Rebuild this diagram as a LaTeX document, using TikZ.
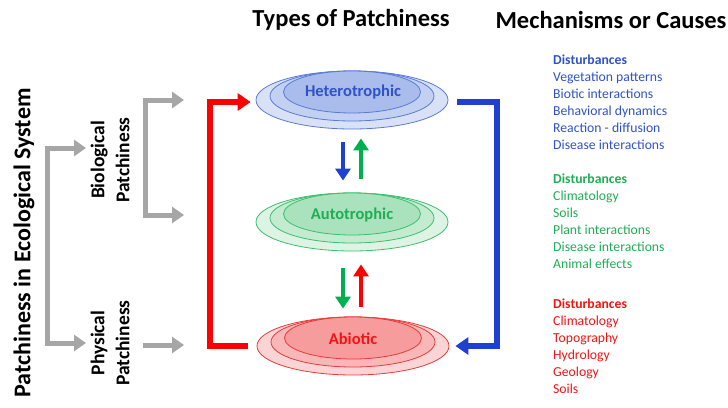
\documentclass[tikz,border=0pt]{standalone}
\usepackage{fontspec}
\setmainfont{Carlito}
\usetikzlibrary{shapes.geometric,arrows.meta,calc}
\definecolor{bline}{HTML}{1F40D0}
\definecolor{gline}{HTML}{00B050}
\definecolor{rline}{HTML}{FF0000}
\definecolor{grayc}{HTML}{A6A6A6}
\definecolor{btext}{HTML}{2F52C8}
\definecolor{gtext}{HTML}{1FAE55}
\definecolor{rtext}{HTML}{F01515}
\definecolor{bo}{HTML}{D8E1F6}\definecolor{bm}{HTML}{C2D0F1}\definecolor{bi}{HTML}{A9BCEB}\definecolor{bs}{HTML}{5A7AD8}
\definecolor{go}{HTML}{DDF3E4}\definecolor{gm}{HTML}{C3EBD0}\definecolor{gi}{HTML}{A9E2BD}\definecolor{gs}{HTML}{3DBE6E}
\definecolor{ro}{HTML}{FBD5D5}\definecolor{rm}{HTML}{F9B7B7}\definecolor{ri}{HTML}{F79C9C}\definecolor{rs}{HTML}{E83A3A}
\tikzset{
  gtip/.tip={Triangle[length=12pt,width=16pt]},
  ell/.style={ellipse, draw, line width=0.8pt, inner sep=0pt},
  outerE/.style={ell, minimum width=192, minimum height=58},
  midE/.style={ell, minimum width=164, minimum height=50},
  innerE/.style={ell, minimum width=137, minimum height=42},
  bigarrow/.style={line width=5.5pt, -{Triangle[length=13pt,width=17pt]}},
  midarrow/.style={line width=4.5pt, -{Triangle[length=12pt,width=15pt]}},
  grayarr/.style={draw=grayc, line width=5pt},
  title/.style={font=\bfseries\fontsize{24.5}{28}\selectfont},
  side/.style={font=\bfseries\fontsize{19.5}{25}\selectfont, align=center, rotate=90, inner sep=0pt},
  etext/.style={font=\bfseries\fontsize{16.5}{18}\selectfont},
  list/.style={font=\fontsize{13.7}{17.1}\selectfont, align=left, anchor=north west, inner sep=0pt},
}
\begin{document}
\begin{tikzpicture}[x=1pt,y=-1pt]
\useasboundingbox (0,0) rectangle (728,407);
% titles
\node[title] (t1) at (351,20) {Types of Patchiness};
\node[title] (t2) at (611,20) {Mechanisms or Causes};
% side labels
\node[side, font=\bfseries\fontsize{24}{28}\selectfont] (main) at (24,243) {Patchiness in Ecological System};
\node[side] (bio) at (110,160) {Biological\\Patchiness};
\node[side] (phys) at (110,343) {Physical\\Patchiness};
% ellipses
\node[outerE, draw=bs, fill=bo] (het1) at (352,100) {};
\node[midE, draw=bs, fill=bm] (het2) at (352,96) {};
\node[innerE, draw=bs, fill=bi] (het3) at (352,92) {};
\node[etext, text=btext] (het) at (353,92) {Heterotrophic};
\node[outerE, draw=gs, fill=go] (auto1) at (352,222) {};
\node[midE, draw=gs, fill=gm] (auto2) at (352,218) {};
\node[innerE, draw=gs, fill=gi] (auto3) at (352,214) {};
\node[etext, text=gtext] (auto) at (352,215) {Autotrophic};
\node[outerE, draw=rs, fill=ro] (abio1) at (353,346) {};
\node[midE, draw=rs, fill=rm] (abio2) at (353,342) {};
\node[innerE, draw=rs, fill=ri] (abio3) at (353,338) {};
\node[etext, text=rtext] (abio) at (353,339) {Abiotic};
% big connectors
\coordinate (rl) at (210,0);
\coordinate (bl) at (497,0);
\coordinate (ra) at ($(abio1.west)+(-9,0)$);
\coordinate (rb) at ($(het1.west)+(-5,2)$);
\coordinate (ba) at ($(het1.east)+(9,2)$);
\coordinate (bb) at ($(abio1.east)+(6,0)$);
\draw[bigarrow, draw=rline] (ra) -- (ra -| rl) |- (rb);
\draw[bigarrow, draw=bline] (ba) -- (ba -| bl) |- (bb);
% middle arrows
\draw[midarrow, draw=bline] ($(het1.south)+(-9,13)$) -- ($(auto1.north)+(-9,-12)$);
\draw[midarrow, draw=gline] ($(auto1.north)+(9,-14)$) -- ($(het1.south)+(9,9)$);
\draw[midarrow, draw=gline] ($(auto1.south)+(-9,17)$) -- ($(abio1.north)+(-10,-8)$);
\draw[midarrow, draw=rline] ($(abio1.north)+(8,-10)$) -- ($(auto1.south)+(9,13)$);
% gray arrows
\coordinate (g1) at (47,148);
\coordinate (g2) at (47,343);
\coordinate (g3) at (145,100);
\coordinate (g4) at (145,215);
\coordinate (g5) at (143,345);
\coordinate (tipx) at (184,0);
\coordinate (ltipx) at (86,0);
\draw[grayarr, {gtip}-{gtip}] (g1 -| ltipx) -- (g1) -- (g2) -- (g2 -| ltipx);
\draw[grayarr, {gtip}-{gtip}] (g3 -| tipx) -- (g3) -- (g4) -- (g4 -| tipx);
\draw[grayarr, -{gtip}] (g5) -- (g5 -| tipx);
% lists
\node[list, text=btext] (blist) at (553,54.5) {\textbf{Disturbances}\\Vegetation patterns\\Biotic interactions\\Behavioral dynamics\\Reaction - diffusion\\Disease interactions};
\node[list, text=gtext] (glist) at (553,173.5) {\textbf{Disturbances}\\Climatology\\Soils\\Plant interactions\\Disease interactions\\Animal effects};
\node[list, text=rtext] (rlist) at (553,298.5) {\textbf{Disturbances}\\Climatology\\Topography\\Hydrology\\Geology\\Soils};
\end{tikzpicture}
\end{document}
